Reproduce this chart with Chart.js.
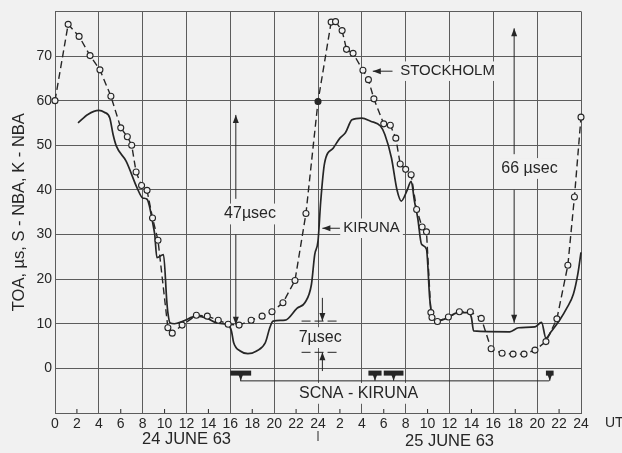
<!DOCTYPE html>
<html>
<head>
<meta charset="utf-8">
<script src="https://cdn.jsdelivr.net/npm/chart.js@4/dist/chart.umd.min.js"></script>
<style>
  html, body { margin: 0; padding: 0; background: #f1f1f1; }
  #wrap { width: 622px; height: 453px; }
</style>
</head>
<body>
<div id="wrap"><canvas id="c" width="622" height="453"></canvas></div>
<script>
// Time of arrival (µs) over two days, hours 0..48 UT (24 and 25 June 1963)
const stockholmHours = [0, 1.2, 2.2, 3.2, 4.1, 5.1, 6.0, 6.6, 7.0, 7.4, 7.9, 8.4, 8.9, 9.4, 10.3, 10.7, 11.6, 12.9, 13.9, 14.9, 15.8, 16.8, 17.9, 18.9, 19.8, 20.8, 21.9, 22.9, 24.0, 25.2, 25.6, 26.2, 26.6, 27.2, 28.1, 28.6, 29.1, 30.0, 30.6, 31.1, 31.5, 32.0, 32.5, 33.0, 33.5, 33.9, 34.3, 34.4, 34.9, 35.9, 36.9, 37.9, 38.9, 39.8, 40.8, 41.8, 42.8, 43.8, 44.8, 45.8, 46.8, 47.4, 48.0];
const stockholmToa = [60, 77.1, 74.4, 70.1, 66.9, 61, 53.9, 51.9, 50, 44, 41, 39.9, 33.7, 28.7, 9.1, 7.9, 9.7, 11.9, 11.7, 10.8, 9.9, 9.7, 10.8, 11.7, 12.7, 14.7, 19.7, 34.7, 59.8, 77.6, 77.7, 75.7, 71.5, 70.6, 66.8, 64.7, 60.4, 54.8, 54.5, 51.6, 45.8, 44.6, 43.4, 35.6, 31.7, 30.6, 12.5, 11.4, 10.5, 11.5, 12.7, 12.7, 11.2, 4.4, 3.4, 3.2, 3.2, 4.1, 6.0, 11.1, 23.1, 38.4, 56.3];

const kirunaHours = [2.1, 3.0, 4.0, 4.5, 5.0, 5.3, 5.6, 6.5, 7.5, 8.0, 8.4, 9.0, 9.1, 9.3, 9.9, 10.2, 10.3, 10.5, 10.9, 11.7, 12.9, 13.9, 14.75, 15.8, 16.1, 16.3, 16.9, 17.6, 18.4, 19.2, 19.6, 19.9, 21.0, 22.1, 22.8, 23.4, 23.7, 24.0, 24.25, 24.6, 25.4, 26.0, 26.5, 27.1, 28.0, 28.8, 29.7, 30.1, 30.7, 31.2, 31.6, 32.1, 32.5, 32.8, 33.1, 33.45, 33.9, 34.2, 34.4, 34.8, 35.7, 36.8, 37.7, 38.0, 38.2, 41.5, 42.3, 43.8, 44.4, 44.8, 45.3, 46.1, 46.7, 47.3, 47.7, 48.0];
const kirunaToa = [55.0, 56.9, 57.8, 57.4, 56.1, 52.4, 49.8, 46.4, 40.4, 38.2, 37.9, 31.5, 30.0, 24.8, 25.5, 15.1, 12.5, 10.2, 10.0, 10.6, 11.7, 11.2, 10.2, 9.7, 8.4, 5.8, 3.9, 3.3, 3.9, 5.8, 9.1, 10.6, 10.8, 13.5, 14.7, 18.8, 25.5, 28.5, 37.5, 46.0, 49.4, 51.6, 52.8, 55.7, 56.1, 55.4, 54.3, 52.4, 47.2, 40.1, 37.5, 39.7, 41.9, 37.5, 33.7, 27.8, 26.7, 15.5, 12.1, 10.6, 11.2, 12.5, 12.5, 11.4, 8.4, 8.2, 9.1, 9.3, 10.3, 6.8, 8.3, 11.0, 13.5, 16.6, 21.0, 26.0];

// SCNA events seen at Kiruna, [start, end] in hours
const scnaEvents = [[16.0, 17.9], [28.6, 29.8], [30.0, 31.8], [44.8, 45.5]];

const xTickHours = [0, 2, 4, 6, 8, 10, 12, 14, 16, 18, 20, 22, 24, 26, 28, 30, 32, 34, 36, 38, 40, 42, 44, 46, 48];
const yTickValues = [-10, 0, 10, 20, 30, 40, 50, 60, 70, 80];
const dayLabels = ['24 JUNE 63', '25 JUNE 63'];

const BG = '#f1f1f1', INK = '#262626', GRID = '#5c5c5c';
const FONT = '"Liberation Sans", Arial, sans-serif';

function line(ctx, x1, y1, x2, y2) {
  ctx.beginPath(); ctx.moveTo(x1, y1); ctx.lineTo(x2, y2); ctx.stroke();
}
function arrow(ctx, x1, y1, x2, y2) {
  line(ctx, x1, y1, x2, y2);
  const a = Math.atan2(y2 - y1, x2 - x1), L = 8, W = 3;
  ctx.beginPath();
  ctx.moveTo(x2, y2);
  ctx.lineTo(x2 - L * Math.cos(a) + W * Math.sin(a), y2 - L * Math.sin(a) - W * Math.cos(a));
  ctx.lineTo(x2 - L * Math.cos(a) - W * Math.sin(a), y2 - L * Math.sin(a) + W * Math.cos(a));
  ctx.closePath(); ctx.fill();
}
function boxedText(ctx, text, x, y, align, size) {
  ctx.font = size + 'px ' + FONT;
  const w = ctx.measureText(text).width;
  const left = align === 'left' ? x : x - w / 2;
  ctx.fillStyle = BG;
  ctx.fillRect(left - 3, y - size * 0.65, w + 6, size * 1.3);
  ctx.fillStyle = INK;
  ctx.textAlign = 'left'; ctx.textBaseline = 'middle';
  ctx.fillText(text, left, y);
}

const notes = {
  id: 'notes',
  beforeDatasetsDraw(chart) {
    const { ctx, scales: { x, y } } = chart;
    const X = h => x.getPixelForValue(h), Y = v => y.getPixelForValue(v);
    ctx.save();
    ctx.strokeStyle = INK; ctx.fillStyle = INK; ctx.lineWidth = 1;

    // minor hour ticks along the bottom axis
    xTickHours.forEach(h => { if (h % 4) line(ctx, X(h), Y(-10), X(h), Y(-10) - 4); });
    // day separator below the midnight label
    line(ctx, X(24), Y(-10) + 18, X(24), Y(-10) + 28);

    // 47 µsec span
    arrow(ctx, X(16.5), Y(30), X(16.5), Y(9.8));
    arrow(ctx, X(16.5), Y(38), X(16.5), Y(56.8));
    boxedText(ctx, '47\u00b5sec', X(17.8), Y(34.6), 'center', 16);

    // 66 µsec span
    ctx.fillStyle = INK;
    arrow(ctx, X(41.9), Y(40), X(41.9), Y(10.2));
    arrow(ctx, X(41.9), Y(48), X(41.9), Y(76.2));
    boxedText(ctx, '66 \u00b5sec', X(43.3), Y(44.8), 'center', 16);

    // 7 µsec span
    ctx.fillStyle = INK;
    ctx.setLineDash([9, 4]);
    line(ctx, X(22.5), Y(10.6), X(25.8), Y(10.6));
    line(ctx, X(22.5), Y(3.6), X(25.8), Y(3.6));
    ctx.setLineDash([]);
    arrow(ctx, X(24.4), Y(15.8), X(24.4), Y(10.6));
    arrow(ctx, X(24.4), Y(-0.6), X(24.4), Y(3.6));
    boxedText(ctx, '7\u00b5sec', X(24.2), Y(6.9), 'center', 16);

    // station labels
    ctx.fillStyle = INK;
    arrow(ctx, X(30.8), Y(66.6), X(29.0), Y(66.6));
    boxedText(ctx, 'STOCKHOLM', X(31.5), Y(66.6), 'left', 15);
    ctx.fillStyle = INK;
    arrow(ctx, X(26.0), Y(31.4), X(24.4), Y(31.4));
    boxedText(ctx, 'KIRUNA', X(26.3), Y(31.4), 'left', 15);

    // SCNA events and bracket
    boxedText(ctx, 'SCNA - KIRUNA', X(27.7), Y(-5.6), 'center', 16);
    ctx.fillStyle = INK;
    const base = Y(-2.8);
    line(ctx, X(16.9), base, X(45.1), base);
    scnaEvents.forEach(([a, b]) => {
      ctx.fillRect(X(a), Y(-0.5), X(b) - X(a), 5);
      const m = (X(a) + X(b)) / 2;
      arrow(ctx, m, Y(-0.5) + 5, m, base);
    });
    ctx.restore();
  },
  afterDraw(chart) {
    const { ctx, scales: { x } } = chart;
    ctx.save();
    ctx.fillStyle = INK;
    ctx.font = '14px ' + FONT;
    ctx.textBaseline = 'middle';
    ctx.textAlign = 'left';
    ctx.fillText('UT', 605, 423);
    ctx.font = '16.5px ' + FONT;
    ctx.textAlign = 'center';
    ctx.fillText(dayLabels[0], x.getPixelForValue(12), 439);
    ctx.fillText(dayLabels[1], x.getPixelForValue(36), 441);
    ctx.restore();
  }
};

const filledAt = stockholmHours.indexOf(24.0);

new Chart(document.getElementById('c'), {
  type: 'line',
  data: {
    datasets: [
      {
        label: 'STOCKHOLM',
        data: stockholmHours.map((h, i) => ({ x: h, y: stockholmToa[i] })),
        borderColor: INK,
        borderWidth: 1.4,
        borderDash: [7, 4],
        tension: 0,
        pointRadius: 3,
        pointBorderWidth: 1.1,
        pointBorderColor: INK,
        pointBackgroundColor: c => c.dataIndex === filledAt ? INK : BG,
        clip: 8
      },
      {
        label: 'KIRUNA',
        data: kirunaHours.map((h, i) => ({ x: h, y: kirunaToa[i] })),
        borderColor: INK,
        borderWidth: 1.7,
        cubicInterpolationMode: 'monotone',
        pointRadius: 0,
        clip: 4
      }
    ]
  },
  options: {
    responsive: false,
    animation: false,
    events: [],
    layout: { padding: { left: 0, top: 10, right: 41, bottom: 0 } },
    plugins: { legend: { display: false }, tooltip: { enabled: false } },
    scales: {
      x: {
        type: 'linear', min: 0, max: 48,
        afterBuildTicks: s => { s.ticks = xTickHours.map(v => ({ value: v })); },
        afterFit: s => { s.height = 40; },
        ticks: {
          autoSkip: false, maxRotation: 0, padding: 3,
          color: INK, font: { family: FONT, size: 14 },
          callback: v => (v > 24 ? v - 24 : v)
        },
        grid: {
          drawTicks: false,
          color: c => (c.tick && c.tick.value % 4 === 0 ? GRID : 'rgba(0,0,0,0)'),
          lineWidth: 1
        },
        border: { display: true, color: GRID, width: 1 }
      },
      y: {
        type: 'linear', min: -10, max: 80,
        afterBuildTicks: s => { s.ticks = yTickValues.map(v => ({ value: v })); },
        afterFit: s => { s.width = 55; },
        ticks: {
          padding: 3, color: INK, font: { family: FONT, size: 14 },
          callback: v => (v >= 0 && v <= 70 ? v : '')
        },
        grid: { drawTicks: false, color: GRID, lineWidth: 1 },
        border: { display: true, color: GRID, width: 1 },
        title: {
          display: true,
          text: 'TOA, \u00b5s, S - NBA, K - NBA',
          color: INK,
          font: { family: FONT, size: 16.5 },
          padding: { top: 10, bottom: 0 }
        }
      }
    }
  },
  plugins: [notes]
});
</script>
</body>
</html>
